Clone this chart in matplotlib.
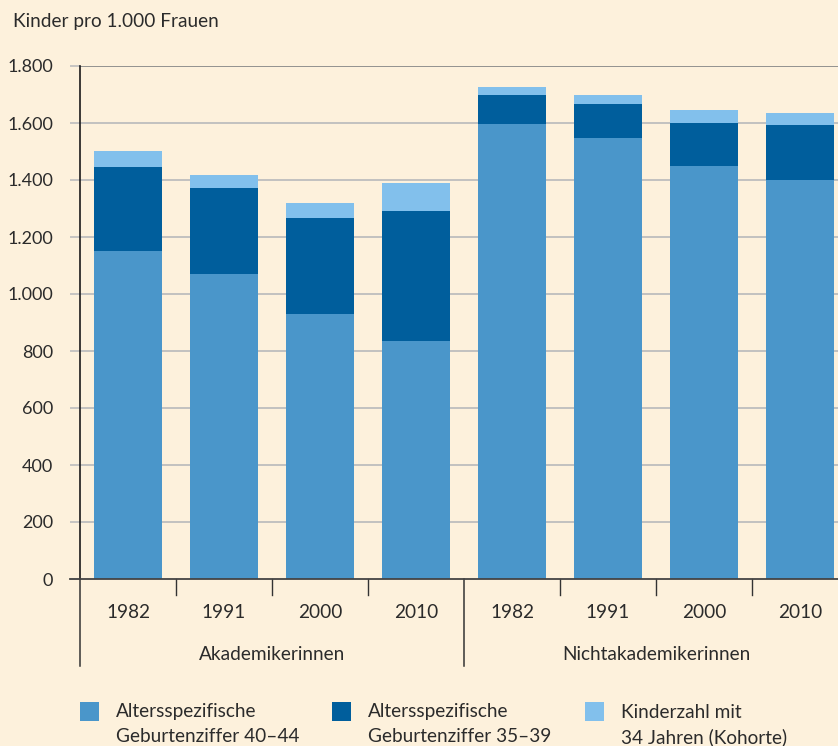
import matplotlib
matplotlib.use("Agg")
import matplotlib.pyplot as plt
from matplotlib.patches import Rectangle
import numpy as np

plt.rcParams['font.family'] = ['Lato', 'DejaVu Sans']

years = ["1982", "1991", "2000", "2010", "1982", "1991", "2000", "2010"]
groups = ["Akademikerinnen", "Nichtakademikerinnen"]
rate_40_44 = [1150, 1070, 930, 835, 1597, 1547, 1449, 1400]
rate_35_39 = [295, 302, 337, 456, 101, 120, 151, 193]
kohorte_34 = [55, 46, 53, 98, 28, 31, 46, 42]
legend_labels = ["Altersspezifische\nGeburtenziffer 40–44",
                 "Altersspezifische\nGeburtenziffer 35–39",
                 "Kinderzahl mit\n34 Jahren (Kohorte)"]
yticks = [0, 200, 400, 600, 800, 1000, 1200, 1400, 1600, 1800]

c_bottom = "#4a96ca"
c_mid = "#005e9c"
c_top = "#82c0ec"
bg = "#fdf1dc"
txt = "#2b2b2b"
fs = 13.7

W, H = 838, 746
fig = plt.figure(figsize=(W / 100, H / 100), dpi=100, facecolor=bg)

def fx(x):
    return x / W

def fy(y):
    return 1 - y / H

ax = fig.add_axes([fx(80), fy(579), 768 / W, 513 / H], facecolor=bg)
x = np.arange(len(years))
bw = 0.70
b1 = np.array(rate_40_44)
b2 = np.array(rate_35_39)
b3 = np.array(kohorte_34)
ax.bar(x, b1, width=bw, color=c_bottom, zorder=3)
ax.bar(x, b2, width=bw, bottom=b1, color=c_mid, zorder=3)
ax.bar(x, b3, width=bw, bottom=b1 + b2, color=c_top, zorder=3)

ax.set_xlim(-0.5, 7.5)
ax.set_ylim(0, 1800)
ax.set_yticks(yticks)
ax.set_yticklabels([f"{v:,}".replace(",", ".") for v in yticks], fontsize=13, color=txt)
ax.tick_params(axis='y', length=7.2, width=1.2, color="#bdbdbd", pad=12)
ax.set_xticks([])
for v in yticks[1:]:
    ax.axhline(v, color="#bdbdbd" if v < 1800 else "#8a8a8a", lw=1.3, zorder=1)
for s in ["top", "right", "bottom"]:
    ax.spines[s].set_visible(False)
ax.spines["left"].set_color("#1a1a1a")
ax.spines["left"].set_linewidth(1.2)

ax.plot([-0.5 - 10 / 96, 7.5], [0, 0], color="#444444", lw=1.3, clip_on=False, zorder=4)

upx = 1800 / 513
for xs in [0.5, 1.5, 2.5, 4.5, 5.5, 6.5]:
    ax.plot([xs, xs], [0, -16 * upx], color="#333333", lw=1.0, clip_on=False)
for xs in [-0.5, 3.5]:
    ax.plot([xs, xs], [0, -87 * upx], color="#333333", lw=1.1, clip_on=False)

for i, yl in enumerate(years):
    ax.text(i, -33 * upx, yl, ha="center", va="center", fontsize=fs, color=txt, clip_on=False)
ax.text(1.5, -76 * upx, groups[0], ha="center", va="center", fontsize=fs, color=txt)
ax.text(5.5, -76 * upx, groups[1], ha="center", va="center", fontsize=fs, color=txt)

fig.text(fx(13), fy(22), "Kinder pro 1.000 Frauen", ha="left", va="center", fontsize=fs, color=txt)

leg_x = [80, 332, 585]
for lx, col, lab in zip(leg_x, [c_bottom, c_mid, c_top], legend_labels):
    fig.add_artist(Rectangle((fx(lx), fy(721)), 19 / W, 19 / H, transform=fig.transFigure,
                             facecolor=col, edgecolor="none"))
    l1, l2 = lab.split("\n")
    fig.text(fx(lx + 36), fy(712), l1, ha="left", va="center", fontsize=fs, color=txt)
    fig.text(fx(lx + 36), fy(737), l2, ha="left", va="center", fontsize=fs, color=txt)

fig.savefig("out.png", dpi=100, facecolor=bg)
